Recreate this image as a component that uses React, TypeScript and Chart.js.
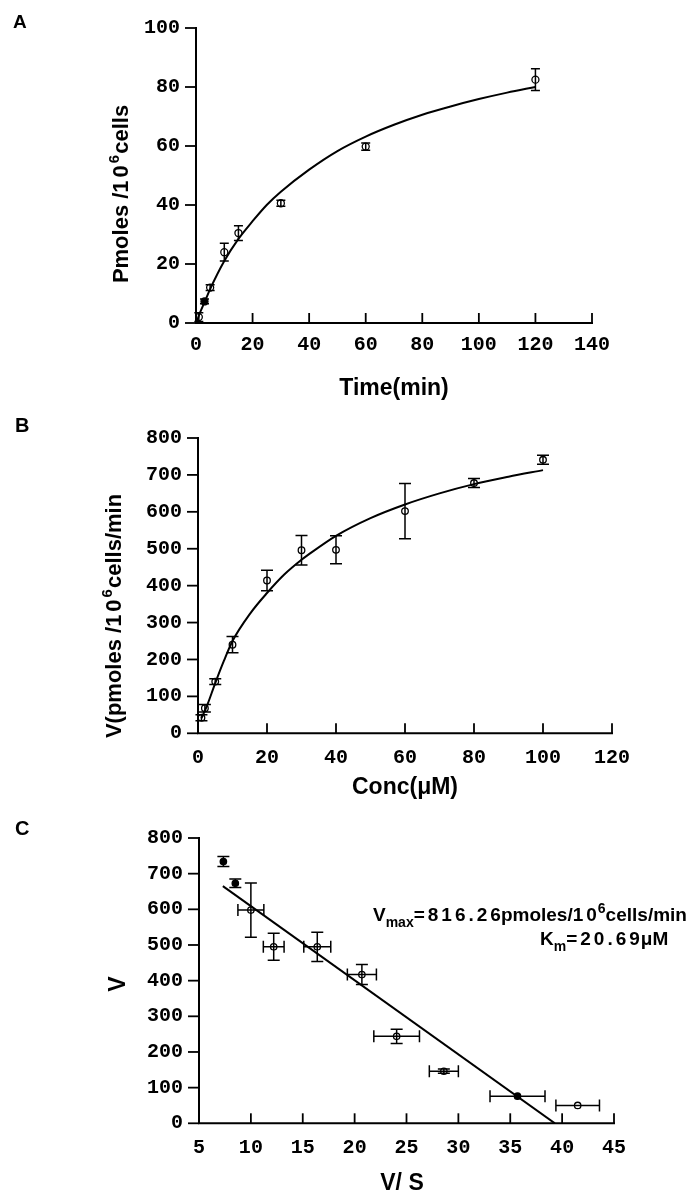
import React, { useEffect, useRef } from 'react';
import { Chart, registerables } from 'chart.js';

Chart.register(...registerables);

// ---------------- Panel A: uptake vs time ----------------
const A_TIME = [1, 3, 5, 10, 15, 30, 60, 120];
const A_PMOLES = [2, 7.3, 12, 24, 30.5, 40.6, 59.8, 82.5];
const A_PMOLES_ERR = [1.5, 0.8, 1, 3, 2.5, 1, 1.2, 3.7];
const A_FIT_TIME = [0.5, 1, 3, 5, 10, 15, 20, 25, 30, 40, 50, 60, 70, 80, 90, 100, 110, 120];
const A_FIT_PMOLES = [1, 2.5, 7, 11.5, 21, 28.5, 34.5, 40, 44.5, 52, 58.3, 63.2, 67.2, 70.6, 73.4, 75.9, 78.1, 80];
const A_X_TICKS = [0, 20, 40, 60, 80, 100, 120, 140];
const A_Y_TICKS = [0, 20, 40, 60, 80, 100];

// ---------------- Panel B: velocity vs concentration ----------------
const B_CONC = [1, 2, 5, 10, 20, 30, 40, 60, 80, 100];
const B_V = [42, 68, 140, 240, 414, 496, 497, 602, 678, 741];
const B_V_ERR = [8, 10, 8, 22, 28, 40, 38, 75, 12, 12];
const B_FIT_CONC = [1, 2.5, 5, 7.5, 10, 15, 20, 25, 30, 32, 40, 50, 60, 70, 80, 90, 100];
const B_FIT_V = [41, 72, 136, 196, 250, 323, 380, 430, 470, 484, 535, 583, 620, 650, 675, 695, 713];
const B_X_TICKS = [0, 20, 40, 60, 80, 100, 120];
const B_Y_TICKS = [0, 100, 200, 300, 400, 500, 600, 700, 800];

// ---------------- Panel C: Eadie-Hofstee ----------------
const C_V_OVER_S = [7.35, 8.5, 10.0, 12.2, 16.4, 20.7, 24.05, 28.6, 35.7, 41.5];
const C_V = [734, 673, 598, 495, 495, 417, 244, 146, 76, 50];
const C_V_ERR = [14, 12, 76, 38, 41, 28, 20, 6, 0, 0];
const C_V_OVER_S_ERR = [0, 0, 1.25, 1.0, 1.3, 1.4, 2.2, 1.4, 2.65, 2.1];
const C_FIT_V_OVER_S = [7.3, 39.3];
const C_FIT_V = [665, 0];
const C_X_TICKS = [5, 10, 15, 20, 25, 30, 35, 40, 45];
const C_Y_TICKS = [0, 100, 200, 300, 400, 500, 600, 700, 800];
const C_VMAX = '816.26';
const C_KM = '20.69';

// ---------------- styles ----------------
const INK = '#000000';
const SANS = '"Liberation Sans", Arial, Helvetica, sans-serif';
const MONO = '"Liberation Mono", "Courier New", monospace';
const sans = (s: number) => `bold ${s}px ${SANS}`;
const A_FILLED = [1];
const B_FILLED: number[] = [];
const C_FILLED = [0, 1, 8];

type Seg = { t: string; f: string; dy?: number; dx?: number; ls?: number };
type TextItem = { segs: Seg[]; x: number; y: number; align?: 'left' | 'center'; rot?: number };

function segWidth(ctx: CanvasRenderingContext2D, s: Seg) {
  ctx.font = s.f;
  if (!s.ls) return ctx.measureText(s.t).width;
  let w = 0;
  for (const ch of s.t) w += ctx.measureText(ch).width + s.ls;
  return w - s.ls;
}

function drawRich(ctx: CanvasRenderingContext2D, item: TextItem) {
  ctx.save();
  ctx.translate(item.x, item.y);
  if (item.rot) ctx.rotate(item.rot);
  ctx.fillStyle = INK;
  ctx.textAlign = 'left';
  ctx.textBaseline = 'alphabetic';
  let total = 0;
  for (const s of item.segs) total += (s.dx || 0) + segWidth(ctx, s);
  let cx = item.align === 'center' ? -total / 2 : 0;
  for (const s of item.segs) {
    cx += s.dx || 0;
    ctx.font = s.f;
    if (s.ls) {
      for (const ch of s.t) {
        ctx.fillText(ch, cx, s.dy || 0);
        cx += ctx.measureText(ch).width + s.ls;
      }
      cx -= s.ls;
    } else {
      ctx.fillText(s.t, cx, s.dy || 0);
      cx += ctx.measureText(s.t).width;
    }
  }
  ctx.restore();
}

type PanelSpec = {
  top: number;
  height: number;
  padding: { left: number; right: number; top: number; bottom: number };
  xMin: number; xMax: number; yMin: number; yMax: number;
  xTicks: number[]; yTicks: number[];
  xs: number[]; ys: number[]; yErr: number[]; xErr?: number[];
  filled: number[];
  fitX: number[]; fitY: number[];
  radius: number; capHalf: number;
  xLabelPad: number;
  texts: TextItem[];
};

const ROT = -Math.PI / 2;

const PANELS: PanelSpec[] = [
  {
    top: 0, height: 410,
    padding: { left: 96, right: 100, top: 20, bottom: 47 },
    xMin: 0, xMax: 140, yMin: 0, yMax: 100,
    xTicks: A_X_TICKS, yTicks: A_Y_TICKS,
    xs: A_TIME, ys: A_PMOLES, yErr: A_PMOLES_ERR,
    filled: A_FILLED,
    fitX: A_FIT_TIME, fitY: A_FIT_PMOLES,
    radius: 3.5, capHalf: 4.5,
    xLabelPad: 10,
    texts: [
      { segs: [{ t: 'A', f: sans(19) }], x: 13, y: 28 },
      {
        segs: [
          { t: 'Pmoles /1', f: sans(22) },
          { t: '0', f: sans(22), dx: 3 },
          { t: '6', f: sans(15), dy: -9, dx: 2 },
          { t: 'cells', f: sans(22), dx: 1 },
        ],
        x: 128, y: 194, align: 'center', rot: ROT,
      },
      { segs: [{ t: 'Time(min)', f: sans(23) }], x: 394, y: 395, align: 'center' },
    ],
  },
  {
    top: 410, height: 400,
    padding: { left: 98, right: 80, top: 27.3, bottom: 36.7 },
    xMin: 0, xMax: 120, yMin: 0, yMax: 800,
    xTicks: B_X_TICKS, yTicks: B_Y_TICKS,
    xs: B_CONC, ys: B_V, yErr: B_V_ERR,
    filled: B_FILLED,
    fitX: B_FIT_CONC, fitY: B_FIT_V,
    radius: 3.3, capHalf: 6,
    xLabelPad: 13,
    texts: [
      { segs: [{ t: 'B', f: sans(20) }], x: 15, y: 22 },
      {
        segs: [
          { t: 'V(pmoles /1', f: sans(22) },
          { t: '0', f: sans(22), dx: 3 },
          { t: '6', f: sans(15), dy: -9, dx: 2 },
          { t: 'cells/min', f: sans(22), dx: 1 },
        ],
        x: 121, y: 206, align: 'center', rot: ROT,
      },
      { segs: [{ t: 'Conc(μM)', f: sans(23) }], x: 405, y: 384, align: 'center' },
    ],
  },
  {
    top: 810, height: 389,
    padding: { left: 99, right: 78, top: 18.3, bottom: 35.7 },
    xMin: 5, xMax: 45, yMin: 0, yMax: 800,
    xTicks: C_X_TICKS, yTicks: C_Y_TICKS,
    xs: C_V_OVER_S, ys: C_V, yErr: C_V_ERR, xErr: C_V_OVER_S_ERR,
    filled: C_FILLED,
    fitX: C_FIT_V_OVER_S, fitY: C_FIT_V,
    radius: 3.2, capHalf: 6,
    xLabelPad: 13,
    texts: [
      { segs: [{ t: 'C', f: sans(20) }], x: 15, y: 25 },
      { segs: [{ t: 'V', f: sans(23) }], x: 125, y: 174, align: 'center', rot: ROT },
      { segs: [{ t: 'V/ S', f: sans(23) }], x: 402, y: 380, align: 'center' },
      {
        segs: [
          { t: 'V', f: sans(19) },
          { t: 'max', f: sans(14), dy: 6 },
          { t: '=' + C_VMAX, f: sans(19), ls: 3 },
          { t: 'pmoles/', f: sans(19) },
          { t: '10', f: sans(19), ls: 3 },
          { t: '6', f: sans(14), dy: -8, dx: 1 },
          { t: 'cells/min', f: sans(19) },
        ],
        x: 373, y: 111,
      },
      {
        segs: [
          { t: 'K', f: sans(19) },
          { t: 'm', f: sans(14), dy: 6 },
          { t: '=' + C_KM, f: sans(19), ls: 3 },
          { t: 'μM', f: sans(19), dx: 1 },
        ],
        x: 540, y: 135,
      },
    ],
  },
];

function makeDecor(p: PanelSpec) {
  return {
    id: 'panelDecor',
    beforeDatasetsDraw(chart: any) {
      const ctx: CanvasRenderingContext2D = chart.ctx;
      const { left, right, top, bottom } = chart.chartArea;
      const xs = chart.scales.x;
      const ys = chart.scales.y;
      ctx.save();
      ctx.strokeStyle = INK;
      ctx.lineWidth = 2;
      ctx.lineCap = 'square';
      ctx.beginPath();
      ctx.moveTo(left, top);
      ctx.lineTo(left, bottom);
      ctx.lineTo(right, bottom);
      ctx.stroke();
      ctx.lineCap = 'butt';
      ctx.lineWidth = 1.8;
      for (const v of p.yTicks) {
        const py = ys.getPixelForValue(v);
        ctx.beginPath();
        ctx.moveTo(left - 11, py);
        ctx.lineTo(left, py);
        ctx.stroke();
      }
      for (const v of p.xTicks) {
        const px = xs.getPixelForValue(v);
        if (Math.abs(px - left) < 1) continue;
        ctx.beginPath();
        ctx.moveTo(px, bottom);
        ctx.lineTo(px, bottom - 10);
        ctx.stroke();
      }
      // error bars
      ctx.lineWidth = 1.5;
      p.xs.forEach((xv, i) => {
        const yv = p.ys[i];
        const px = xs.getPixelForValue(xv);
        const py = ys.getPixelForValue(yv);
        const ye = p.yErr[i];
        if (ye > 0) {
          const t = ys.getPixelForValue(yv + ye);
          const b = ys.getPixelForValue(yv - ye);
          ctx.beginPath();
          ctx.moveTo(px, t); ctx.lineTo(px, b);
          ctx.moveTo(px - p.capHalf, t); ctx.lineTo(px + p.capHalf, t);
          ctx.moveTo(px - p.capHalf, b); ctx.lineTo(px + p.capHalf, b);
          ctx.stroke();
        }
        const xe = p.xErr ? p.xErr[i] : 0;
        if (xe > 0) {
          const l = xs.getPixelForValue(xv - xe);
          const r = xs.getPixelForValue(xv + xe);
          ctx.beginPath();
          ctx.moveTo(l, py); ctx.lineTo(r, py);
          ctx.moveTo(l, py - p.capHalf); ctx.lineTo(l, py + p.capHalf);
          ctx.moveTo(r, py - p.capHalf); ctx.lineTo(r, py + p.capHalf);
          ctx.stroke();
        }
      });
      ctx.restore();
    },
    afterDraw(chart: any) {
      const ctx: CanvasRenderingContext2D = chart.ctx;
      for (const t of p.texts) drawRich(ctx, t);
    },
  };
}

function Panel({ spec }: { spec: PanelSpec }) {
  const ref = useRef<HTMLCanvasElement | null>(null);
  useEffect(() => {
    if (!ref.current) return;
    const p = spec;
    const tickFont = { family: MONO, size: 20, weight: 'bold' as const };
    const chart = new Chart(ref.current, {
      type: 'scatter',
      data: {
        datasets: [
          {
            type: 'line',
            data: p.fitX.map((x, i) => ({ x, y: p.fitY[i] })),
            borderColor: INK,
            borderWidth: 2,
            pointRadius: 0,
            cubicInterpolationMode: 'monotone',
            fill: false,
            order: 2,
          } as any,
          {
            type: 'scatter',
            data: p.xs.map((x, i) => ({ x, y: p.ys[i] })),
            pointRadius: p.radius,
            pointBorderColor: INK,
            pointBorderWidth: 1.3,
            pointBackgroundColor: (c: any) => (p.filled.includes(c.dataIndex) ? INK : 'rgba(255,255,255,0)'),
            order: 1,
          } as any,
        ],
      },
      options: {
        responsive: false,
        animation: false,
        events: [],
        layout: { padding: p.padding },
        plugins: { legend: { display: false }, tooltip: { enabled: false } },
        scales: {
          x: {
            type: 'linear',
            position: 'bottom',
            min: p.xMin,
            max: p.xMax,
            afterBuildTicks: (s: any) => { s.ticks = p.xTicks.map((v) => ({ value: v })); },
            afterFit: (s: any) => { s.height = 40; },
            grid: { display: false, drawTicks: false },
            border: { display: false },
            ticks: {
              color: INK, font: tickFont, padding: p.xLabelPad,
              maxRotation: 0, autoSkip: false,
              callback: (v: any) => String(v),
            },
          },
          y: {
            type: 'linear',
            position: 'left',
            min: p.yMin,
            max: p.yMax,
            afterBuildTicks: (s: any) => { s.ticks = p.yTicks.map((v) => ({ value: v })); },
            afterFit: (s: any) => { s.width = 100; },
            grid: { display: false, drawTicks: false },
            border: { display: false },
            ticks: {
              color: INK, font: tickFont, padding: 16,
              autoSkip: false,
              callback: (v: any) => String(v),
            },
          },
        },
      } as any,
      plugins: [makeDecor(p)],
    });
    return () => chart.destroy();
  }, [spec]);
  return (
    <canvas
      ref={ref}
      width={692}
      height={spec.height}
      style={{ position: 'absolute', left: 0, top: spec.top, width: 692, height: spec.height }}
    />
  );
}

export default function App() {
  return (
    <div style={{ position: 'absolute', left: 0, top: 0, width: 692, height: 1199, background: '#fff', overflow: 'hidden' }}>
      {PANELS.map((s, i) => (
        <Panel key={i} spec={s} />
      ))}
    </div>
  );
}
